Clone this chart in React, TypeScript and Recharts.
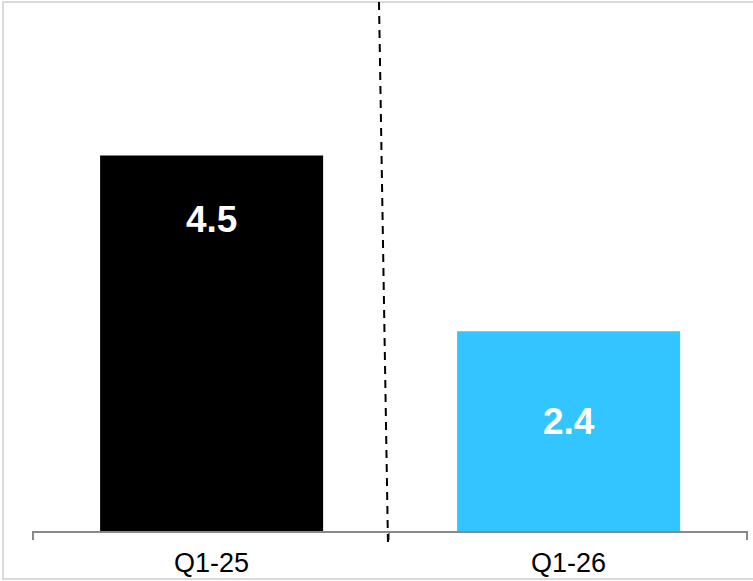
import React from "react";
import { BarChart, Bar, XAxis, YAxis, Cell, LabelList } from "recharts";

const categories = ["Q1-25", "Q1-26"];
const values = [4.5, 2.4];
const colors = ["#000000", "#33C5FF"];
const labelBaselineOffsets = [76, 103];

const data = categories.map((c, i) => ({ name: c, value: values[i] }));

const FONT = "'Liberation Sans', Arial, sans-serif";

const ValueLabel = (props: any) => {
  const { x, y, width, value, index } = props;
  return (
    <text
      x={Number(x) + Number(width) / 2}
      y={Number(y) + labelBaselineOffsets[index ?? 0]}
      textAnchor="middle"
      fill="#ffffff"
      fontSize={37}
      fontWeight="bold"
      fontFamily={FONT}
    >
      {Number(value).toFixed(1)}
    </text>
  );
};

export default function App() {
  return (
    <div style={{ position: "fixed", left: 0, top: 0, width: 753, height: 581, background: "#fff", overflow: "hidden" }}>
      <div
        style={{
          position: "absolute",
          left: 2,
          top: 1,
          width: 760,
          height: 579,
          borderTop: "2px solid #d9d9d9",
          borderLeft: "2px solid #d9d9d9",
          borderBottom: "2px solid #d9d9d9",
          boxSizing: "border-box",
        }}
      />
      <div style={{ position: "absolute", left: 0, top: 0 }}>
        <BarChart
          width={753}
          height={581}
          data={data}
          margin={{ top: 30, right: 6, bottom: 9, left: 33 }}
          barCategoryGap="18.8%"
        >
          <YAxis hide domain={[0, 6]} />
          <XAxis
            dataKey="name"
            height={40}
            axisLine={{ stroke: "#888888", strokeWidth: 2 }}
            tickLine={false}
            tickSize={8}
            tickMargin={13}
            tick={{ fill: "#000000", fontSize: 27, fontFamily: FONT }}
          />
          <Bar dataKey="value" isAnimationActive={false}>
            {data.map((d, i) => (
              <Cell key={d.name} fill={colors[i]} />
            ))}
            <LabelList dataKey="value" content={<ValueLabel />} />
          </Bar>
        </BarChart>
      </div>
      <svg
        width={753}
        height={581}
        style={{ position: "absolute", left: 0, top: 0, pointerEvents: "none" }}
      >
        <g stroke="#888888" strokeWidth={2}>
          <line x1={33} y1={531} x2={33} y2={540} />
          <line x1={389} y1={531} x2={389} y2={540} />
          <line x1={747} y1={531} x2={747} y2={540} />
        </g>
        <line
          x1={379}
          y1={2}
          x2={388}
          y2={545}
          stroke="#000000"
          strokeWidth={2}
          strokeDasharray="8 6"
        />
      </svg>
    </div>
  );
}
